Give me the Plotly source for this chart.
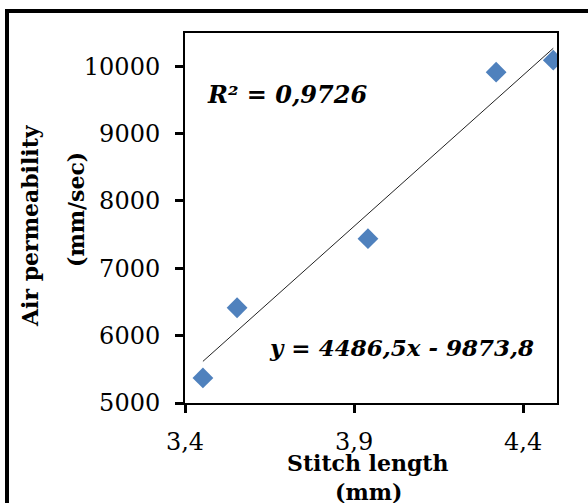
import plotly.graph_objects as go

# Data
stitch_length = [3.453, 3.554, 3.941, 4.320, 4.489]
air_permeability = [5372, 6414, 7440, 9911, 10089]
trend_slope = 4486.5
trend_intercept = -9873.8
r_squared_text = "R² = 0,9726"
equation_text = "y = 4486,5x - 9873,8"
x_tick_vals = [3.4, 3.9, 4.4]
x_tick_text = ["3,4", "3,9", "4,4"]
y_tick_vals = [5000, 6000, 7000, 8000, 9000, 10000]

W, H = 588, 503
FONT = "DejaVu Serif"

x_line = [min(stitch_length), max(stitch_length)]
y_line = [trend_slope * v + trend_intercept for v in x_line]

fig = go.Figure()
fig.add_trace(go.Scatter(x=x_line, y=y_line, mode="lines",
                         line=dict(color="#222222", width=1), showlegend=False,
                         hoverinfo="skip"))
fig.add_trace(go.Scatter(x=stitch_length, y=air_permeability, mode="markers",
                         marker=dict(symbol="diamond", size=16, color="#4F81BD",
                                     line=dict(width=0)),
                         showlegend=False))

def px(x):
    return x / W

def py(y):
    return 1 - y / H

def note(text, x, y, size, angle=0, **fontkw):
    return dict(text=text, x=px(x), y=py(y), xref="paper", yref="paper",
                xanchor="center", yanchor="middle", textangle=angle,
                showarrow=False,
                font=dict(family=FONT, size=size, color="black", **fontkw))

fig.update_layout(
    width=W, height=H,
    margin=dict(l=0, r=0, t=0, b=0),
    paper_bgcolor="white", plot_bgcolor="white",
    font=dict(family=FONT, color="black"),
    xaxis=dict(domain=[px(185), px(557)], range=[3.4, 4.5],
               tickvals=x_tick_vals, ticktext=x_tick_text,
               showgrid=False, zeroline=False,
               showline=True, linecolor="black", linewidth=2, mirror=True,
               ticks="outside", ticklen=8, tickwidth=3, tickcolor="black",
               tickfont=dict(family=FONT, size=24, color="black"),
               ticklabelstandoff=8, automargin=False),
    yaxis=dict(domain=[py(403), py(32.5)], range=[5000, 10500],
               tickvals=y_tick_vals, tickformat="d",
               showgrid=False, zeroline=False,
               showline=True, linecolor="black", linewidth=2, mirror=True,
               ticks="outside", ticklen=8, tickwidth=3, tickcolor="black",
               tickfont=dict(family=FONT, size=24, color="black"),
               ticklabelstandoff=10, automargin=False),
    shapes=[dict(type="rect", xref="paper", yref="paper",
                 x0=px(7), x1=1.05, y0=-0.05, y1=py(11),
                 line=dict(color="black", width=4), fillcolor="rgba(0,0,0,0)")],
    annotations=[
        note(r_squared_text, 287, 95, 24, style="italic", weight="bold"),
        note(equation_text, 401, 347, 23, style="italic", weight="bold"),
        note("<b>Air permeability</b>", 30, 226, 22, angle=-90),
        note("<b>(mm/sec)</b>", 76, 210, 22, angle=-90),
        note("<b>Stitch length</b>", 368, 463, 22),
        note("<b>(mm)</b>", 368, 492, 22),
    ],
)

fig.write_html("out.html")
